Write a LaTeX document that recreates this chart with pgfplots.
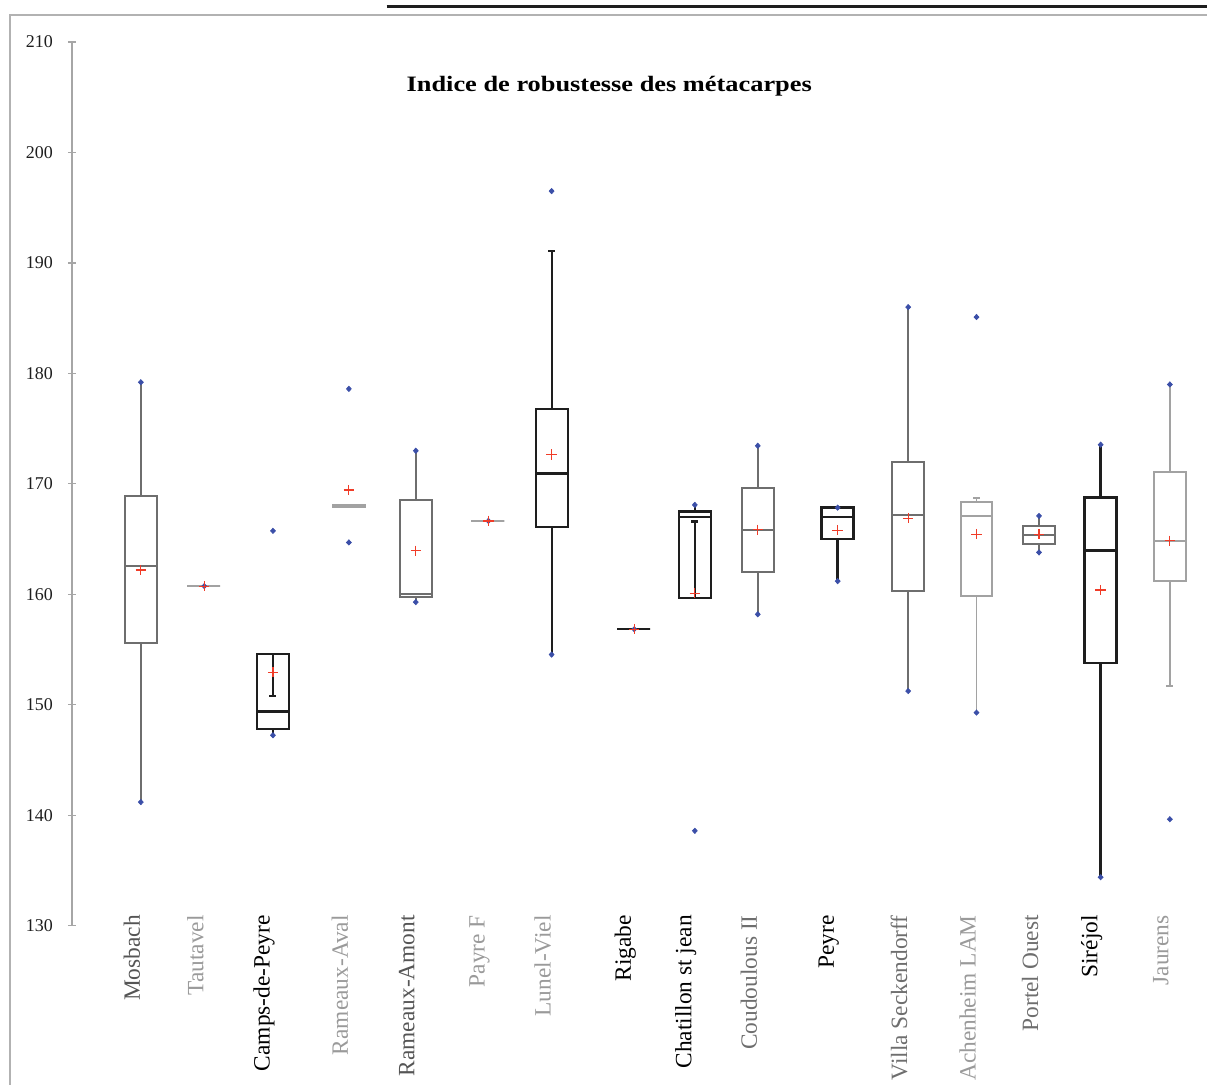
\documentclass[border=0pt]{standalone}
\usepackage{pgfplots}
\pgfplotsset{compat=1.18}
\usepackage{fontspec}
\setmainfont{Liberation Serif}
\definecolor{gA}{HTML}{6E6E6E}
\definecolor{gB}{HTML}{A2A2A2}
\definecolor{bk}{HTML}{1E1E1E}
\definecolor{dotb}{HTML}{3B4FA8}
\definecolor{meanr}{HTML}{F03C28}
\definecolor{lA}{HTML}{555555}
\definecolor{lB}{HTML}{9A9A9A}
% style, position, lower whisker, Q1, median, Q3, upper whisker
\newcommand{\BX}[7]{%
  \pgfmathsetmacro\xl{#2-16}\pgfmathsetmacro\xr{#2+16}%
  \addplot[#1] coordinates {(#2,#3) (#2,#4)};
  \addplot[#1] coordinates {(#2,#6) (#2,#7)};
  \addplot[#1, line cap=rect, line join=miter] coordinates {(\xl,#4) (\xr,#4) (\xr,#6) (\xl,#6) (\xl,#4)};
  \addplot[#1] coordinates {(\xl,#5) (\xr,#5)};
}
\begin{document}
\begin{tikzpicture}
\path (0pt,0pt) rectangle (604pt,543pt);
\draw[gray!60, line width=0.8pt] (5pt,0pt) -- (5pt,535.5pt) -- (604pt,535.5pt);
\draw[bk, line width=1.5pt] (193.5pt,539.5pt) -- (604pt,539.5pt);
\node[font=\fontsize{11}{13}\selectfont\bfseries] at (305pt,500pt) {\scalebox{1.2}[1]{Indice de robustesse des métacarpes}};
\begin{axis}[
  at={(36pt,79.5pt)}, anchor=south west,
  scale only axis, width=568pt, height=442.5pt,
  xmin=72, xmax=1208, ymin=130, ymax=210,
  clip=false,
  axis lines=left,
  x axis line style={draw=none},
  y axis line style={draw=gray!70, line width=0.6pt, -},
  ytick={130,140,...,210},
  ytick align=center,
  major tick length=4pt,
  ytick style={draw=gray!70, line width=0.6pt},
  xtick style={draw=none},
  yticklabel style={font=\fontsize{9}{10}\selectfont, text=bk, xshift=-4pt},
  /pgf/number format/assume math mode=true,
  xtick={141,204.5,273.3,349.3,416.3,489,552.3,635,695.7,758.7,838.7,909.3,977.7,1040.3,1102,1171.3},
  xticklabels={\textcolor{lA}{Mosbach},\textcolor{lB}{Tautavel},\textcolor{black}{Camps-de-Peyre},\textcolor{lB}{Rameaux-Aval},\textcolor{lA}{Rameaux-Amont},\textcolor{lB}{Payre F},\textcolor{lB}{Lunel-Viel},\textcolor{black}{Rigabe},\textcolor{black}{Chatillon st jean},\textcolor{gA}{Coudoulous II},\textcolor{black}{Peyre},\textcolor{gA}{Villa Seckendorff},\textcolor{lB}{Achenheim LAM},\textcolor{gA}{Portel Ouest},\textcolor{black}{Siréjol},\textcolor{lB}{Jaurens}},
  xticklabel style={xshift=-4.5pt, rotate=90, anchor=east, font=\fontsize{11.7}{14}\selectfont, inner sep=0pt},
  xticklabel shift=-7.5pt,
]
% boxes
\BX{gA, line width=1pt}{141}{141.2}{155.6}{162.6}{168.9}{179.2}
\BX{gB, line width=1pt}{204.5}{160.75}{160.75}{160.75}{160.75}{160.75}
\BX{bk, line width=1.2pt}{273.3}{147.25}{147.8}{149.4}{154.6}{154.6}
\BX{gB, fill=gray!45, line width=0.8pt}{349.3}{167.9}{167.9}{168.05}{168.15}{168.15}
\BX{gA, line width=1pt}{416.3}{159.3}{159.8}{160.05}{168.5}{173.0}
\BX{gB, line width=1pt}{489}{166.65}{166.65}{166.65}{166.65}{166.65}
\BX{bk, line width=1.1pt}{552.3}{154.55}{166.1}{170.95}{176.8}{191.1}
\BX{bk, line width=1.1pt}{635}{156.85}{156.85}{156.85}{156.85}{156.85}
\BX{bk, line width=1.2pt}{695.7}{159.65}{159.65}{167.0}{167.5}{168.1}
\BX{gA, line width=1pt}{758.7}{158.2}{162.0}{165.85}{169.6}{173.45}
\BX{bk, line width=1.2pt}{838.7}{161.2}{165.0}{167.0}{167.85}{167.85}
\BX{gA, line width=1pt}{909.3}{151.25}{160.3}{167.15}{172.0}{186.0}
\BX{gB, line width=1pt}{977.7}{149.3}{159.85}{167.1}{168.4}{168.7}
\BX{gA, line width=1pt}{1040.3}{163.8}{164.6}{165.4}{166.2}{167.1}
\BX{bk, line width=1.3pt}{1102}{134.4}{153.8}{163.95}{168.75}{173.55}
\BX{gB, line width=1pt}{1171.3}{151.7}{161.2}{164.85}{171.1}{179.0}
% inner whiskers and caps
\addplot[bk, line width=1.2pt] coordinates {(273.3,154.6) (273.3,150.8)};
\addplot[bk, line width=1.2pt] coordinates {(269.8,150.8) (276.8,150.8)};
\addplot[bk, line width=1.2pt] coordinates {(695.7,166.6) (695.7,159.65)};
\addplot[bk, line width=1.2pt] coordinates {(692.2,166.6) (699.2,166.6)};
\addplot[bk, line width=1.1pt] coordinates {(548.8,191.1) (555.8,191.1)};
\addplot[gB, line width=1pt] coordinates {(974.2,168.7) (981.2,168.7)};
\addplot[gB, line width=1pt] coordinates {(1167.8,151.7) (1174.8,151.7)};
% data points (whisker ends and outliers)
\addplot[only marks, mark=diamond*, mark size=1.6pt, dotb, mark options={yscale=0.8}] coordinates {
(141,179.2) (141,141.2)
(204.5,160.75)
(273.3,165.75) (273.3,147.25)
(349.3,178.6) (349.3,164.7)
(416.3,173.0) (416.3,159.3)
(489,166.65)
(552.3,196.5) (552.3,154.55)
(635,156.85)
(695.7,168.1) (695.7,138.6)
(758.7,173.45) (758.7,158.2)
(838.7,167.85) (838.7,161.2)
(909.3,186.0) (909.3,151.25)
(977.7,185.1) (977.7,149.3)
(1040.3,167.1) (1040.3,163.8)
(1102,173.55) (1102,134.4)
(1171.3,179.0) (1171.3,139.65)
};
% means
\addplot[only marks, mark=+, mark size=2.6pt, meanr, mark options={line width=0.6pt}] coordinates {
(141,162.2) (204.5,160.75) (273.3,152.95) (349.3,169.45) (416.3,163.95)
(489,166.65) (552.3,172.65) (635,156.85) (695.7,160.1) (758.7,165.85)
(838.7,165.8) (909.3,166.9) (977.7,165.45) (1040.3,165.45) (1102,160.4)
(1171.3,164.85)
};
\end{axis}
\end{tikzpicture}
\end{document}
